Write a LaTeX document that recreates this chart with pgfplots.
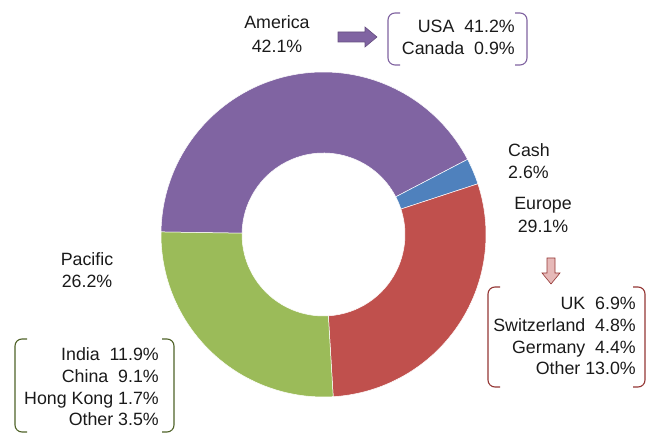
\documentclass[border=0pt]{standalone}
\usepackage{pgfplots}
\usepackage{pgfplotstable}
\pgfplotsset{compat=1.18}
\usepackage{fontspec}
\setmainfont{Liberation Sans}
\definecolor{cAm}{HTML}{8064A2}
\definecolor{cCash}{HTML}{4F81BD}
\definecolor{cEu}{HTML}{C0504D}
\definecolor{cPac}{HTML}{9BBB59}
\definecolor{txt}{HTML}{1A1A1A}
\definecolor{brPur}{HTML}{7F62A0}
\definecolor{brRed}{HTML}{943634}
\definecolor{brGrn}{HTML}{4F6228}
\pgfplotstableread{
label value color
America 42.1 cAm
Cash 2.6 cCash
Europe 29.1 cEu
Pacific 26.2 cPac
}\donutdata
\begin{document}
\begin{tikzpicture}[every node/.style={font=\fontsize{17.8}{21.7}\selectfont, text=txt, inner sep=0pt}]
\begin{axis}[x=1pt, y=1pt, xmin=0, xmax=646, ymin=0, ymax=433,
  hide axis, clip=false, scale only axis, disabledatascaling]
\path (axis cs:0,0) rectangle (axis cs:646,433);
\xdef\curang{179.1}
\pgfplotsforeachungrouped \i in {0,...,3}{%
  \pgfplotstablegetelem{\i}{value}\of\donutdata \let\val\pgfplotsretval
  \pgfplotstablegetelem{\i}{color}\of\donutdata \let\col\pgfplotsretval
  \pgfmathsetmacro\endang{\curang-3.6*\val}%
  \edef\doit{\noexpand\fill[\col, draw=white, line width=0.5pt] (axis cs:{323.5+162.5*cos(\curang)},{198.5+162.5*sin(\curang)}) arc[start angle=\curang, end angle=\endang, radius=162.5pt] -- (axis cs:{323.5+81.5*cos(\endang)},{198.5+81.5*sin(\endang)}) arc[start angle=\endang, end angle=\curang, radius=81.5pt] -- cycle;}%
  \doit
  \xdef\curang{\endang}%
}
% America
\node[anchor=base] at (axis cs:277,404) {America};
\node[anchor=base] at (axis cs:277,380) {42.1\%};
\filldraw[fill=cAm, draw=brPur!80!black, line width=0.6pt] (axis cs:338,401) -- (axis cs:365,401) -- (axis cs:365,406) -- (axis cs:377,396) -- (axis cs:365,386) -- (axis cs:365,391) -- (axis cs:338,391) -- cycle;
\draw[brPur, line width=1.1pt, rounded corners=7pt] (axis cs:400,420) -- (axis cs:388,420) -- (axis cs:388,368) -- (axis cs:400,368);
\draw[brPur, line width=1.1pt, rounded corners=7pt] (axis cs:515,420) -- (axis cs:527,420) -- (axis cs:527,368) -- (axis cs:515,368);
\node[anchor=base east] at (axis cs:515,400) {USA\ \ 41.2\%};
\node[anchor=base east] at (axis cs:515,378) {Canada\ \ 0.9\%};
% Cash
\node[anchor=base west] at (axis cs:508,276) {Cash};
\node[anchor=base west] at (axis cs:508,254) {2.6\%};
% Europe
\node[anchor=base] at (axis cs:543,223) {Europe};
\node[anchor=base] at (axis cs:543,200) {29.1\%};
\filldraw[fill=cEu!40, draw=brRed, line width=0.6pt] (axis cs:547,175) -- (axis cs:555,175) -- (axis cs:555,160) -- (axis cs:560,160) -- (axis cs:551,149) -- (axis cs:542,160) -- (axis cs:547,160) -- cycle;
\draw[brRed, line width=1.1pt, rounded corners=7pt] (axis cs:500,146) -- (axis cs:488,146) -- (axis cs:488,46) -- (axis cs:500,46);
\draw[brRed, line width=1.1pt, rounded corners=7pt] (axis cs:633,146) -- (axis cs:645,146) -- (axis cs:645,46) -- (axis cs:633,46);
\node[anchor=base east] at (axis cs:636,123) {UK\ \ 6.9\%};
\node[anchor=base east] at (axis cs:636,101.3) {Switzerland\ \ 4.8\%};
\node[anchor=base east] at (axis cs:636,79.7) {Germany\ \ 4.4\%};
\node[anchor=base east] at (axis cs:636,58) {Other 13.0\%};
% Pacific
\node[anchor=base] at (axis cs:87,167) {Pacific};
\node[anchor=base] at (axis cs:87,145) {26.2\%};
\draw[brGrn, line width=1.1pt, rounded corners=7pt] (axis cs:27,94) -- (axis cs:15,94) -- (axis cs:15,1) -- (axis cs:27,1);
\draw[brGrn, line width=1.1pt, rounded corners=7pt] (axis cs:162,94) -- (axis cs:174,94) -- (axis cs:174,1) -- (axis cs:162,1);
\node[anchor=base east] at (axis cs:159,72) {India\ \ 11.9\%};
\node[anchor=base east] at (axis cs:159,50) {China\ \ 9.1\%};
\node[anchor=base east] at (axis cs:159,28) {Hong Kong\ 1.7\%};
\node[anchor=base east] at (axis cs:159,7) {Other 3.5\%};
\end{axis}
\end{tikzpicture}
\end{document}
